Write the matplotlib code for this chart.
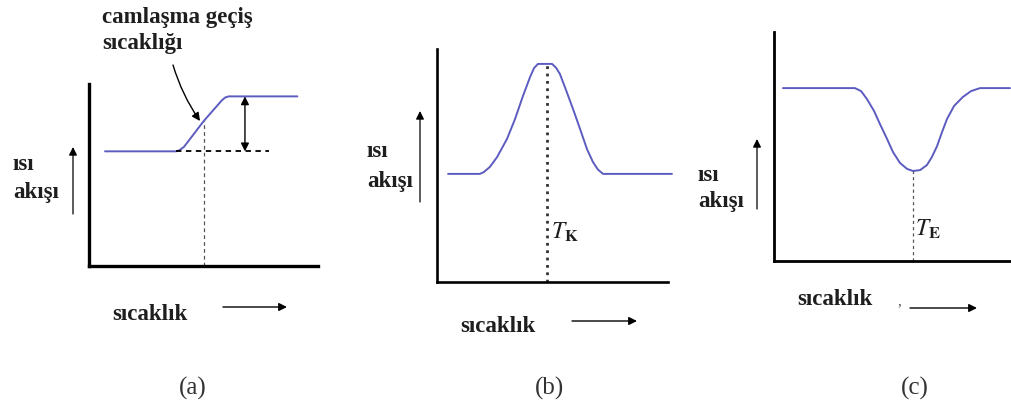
import matplotlib.pyplot as plt

plt.rcParams['font.family'] = 'Liberation Serif'
plt.rcParams['mathtext.fontset'] = 'stix'

W, H = 1011, 414

# (a) glass transition: step in heat flow
glass_T = [0.7, 3.8, 3.95, 4.15, 5.0, 5.8, 5.95, 6.1, 9.1]
glass_Q = [6.3, 6.3, 6.36, 6.55, 7.95, 9.1, 9.26, 9.32, 9.32]
glass_Tg = 5.0
glass_base_end = 7.86
glass_step_x = 6.81

# (b) crystallisation: exothermic peak
cryst_T = [0.48, 1.86, 2.03, 2.29, 2.60, 3.03, 3.38, 3.72, 4.03, 4.2, 4.37,
           4.98, 5.15, 5.32, 5.6, 5.89, 6.2, 6.49, 6.75, 6.97, 7.19, 10.17]
cryst_Q = [4.64, 4.64, 4.72, 4.94, 5.36, 6.14, 7.0, 7.98, 8.8, 9.18, 9.36,
           9.36, 9.2, 8.93, 8.2, 7.42, 6.55, 5.71, 5.15, 4.82, 4.64, 4.64]
cryst_Tk = 4.76

# (c) melting: endothermic dip
melt_T = [0.38, 3.43, 3.69, 3.94, 4.24, 4.49, 4.79, 5.04, 5.34, 5.64, 5.89,
          6.19, 6.48, 6.69, 6.91, 7.12, 7.33, 7.63, 8.0, 8.35, 8.73, 10.0]
melt_Q = [7.55, 7.55, 7.42, 7.07, 6.55, 5.98, 5.33, 4.76, 4.28, 4.02, 3.93,
          3.97, 4.19, 4.54, 5.02, 5.63, 6.2, 6.77, 7.16, 7.42, 7.55, 7.55]
melt_Tm = 5.89

curve_color = '#5c5cc0'
text_color = '#1e1e1e'


def panel(left, top, right, bottom, lw):
    ax = fig.add_axes([left / W, 1 - bottom / H, (right - left) / W, (bottom - top) / H])
    ax.set_xlim(0, 10)
    ax.set_ylim(0, 10)
    ax.set_xticks([])
    ax.set_yticks([])
    ax.patch.set_alpha(0)
    for s in ['top', 'right']:
        ax.spines[s].set_visible(False)
    for s in ['left', 'bottom']:
        ax.spines[s].set_linewidth(lw)
        ax.spines[s].set_color('black')
    return ax


fig = plt.figure(figsize=(W / 100, H / 100), dpi=100)
fig.patch.set_facecolor('white')

# overlay in pixel units for labels and free arrows
ov = fig.add_axes([0, 0, 1, 1])
ov.set_xlim(0, W)
ov.set_ylim(H, 0)
ov.axis('off')
ov.patch.set_alpha(0)

line_kw = dict(color=curve_color, lw=1.4, clip_on=False,
               solid_joinstyle='round', solid_capstyle='round')

# ---- (a)
axa = panel(89, 85, 318, 267, 2.4)
axa.plot(glass_T, glass_Q, **line_kw)
axa.plot([glass_T[1], glass_base_end], [glass_Q[0], glass_Q[0]], color='black',
         lw=1.3, dashes=(3, 2.5))
gi = glass_T.index(glass_Tg)
axa.plot([glass_Tg, glass_Tg], [0, glass_Q[gi]], color='#555555', lw=0.9, dashes=(3, 2.5))
axa.annotate('', xy=(glass_step_x, glass_Q[-1]), xytext=(glass_step_x, glass_Q[0]),
             arrowprops=dict(arrowstyle='<|-|>', color='black', lw=1.0,
                             mutation_scale=12, shrinkA=0, shrinkB=0))

# ---- (b)
axb = panel(437, 50, 668, 283, 1.9)
axb.plot(cryst_T, cryst_Q, **line_kw)
axb.plot([cryst_Tk, cryst_Tk], [0, max(cryst_Q)], color='#333333', lw=2.0, ls=':')

# ---- (c)
axc = panel(774, 33, 1010, 262, 2.0)
axc.plot(melt_T, melt_Q, **line_kw)
axc.plot([melt_Tm, melt_Tm], [0, min(melt_Q)], color='#555555', lw=0.9, dashes=(2.5, 2.5))

bold = dict(fontsize=16.5, fontweight='bold', color=text_color, va='center')

# y-axis captions with upward arrows
for x, y1, y2, ax_arrow, a_top, a_bot in [(13, 165, 193, 73, 148, 215),
                                         (367, 152, 182, 420, 112, 203),
                                         (698, 176, 202, 757, 140, 210)]:
    ov.text(x, y1, 'ısı', ha='left', **bold)
    ov.text(x, y2, 'akışı', ha='left', **bold)
    ov.annotate('', xy=(ax_arrow, a_top), xytext=(ax_arrow, a_bot),
                arrowprops=dict(arrowstyle='-|>', color='black', lw=0.9,
                                mutation_scale=12, shrinkA=0, shrinkB=0))

# x-axis captions with right arrows
for x, y, a0, a1, ay in [(112, 315, 223, 287, 308),
                         (460, 327, 572, 637, 322),
                         (797, 300, 910, 977, 309)]:
    ov.text(x, y, 'sıcaklık', ha='left', **bold)
    ov.annotate('', xy=(a1, ay), xytext=(a0, ay),
                arrowprops=dict(arrowstyle='-|>', color='black', lw=1.0,
                                mutation_scale=12, shrinkA=0, shrinkB=0))
ov.text(899, 302, ',', ha='center', fontsize=11, color='#555555', va='center')

# glass transition callout
ov.text(102, 17, 'camlaşma geçiş', ha='left', **bold)
ov.text(102, 43, 'sıcaklığı', ha='left', **bold)
ov.annotate('', xy=(200, 122), xytext=(173, 66),
            arrowprops=dict(arrowstyle='-|>', color='black', lw=1.0, mutation_scale=12,
                            shrinkA=0, shrinkB=0, connectionstyle='arc3,rad=0.08'))

# peak temperature labels
ov.text(551, 232, r'$T_{\mathbf{K}}$', fontsize=17, ha='left', va='center', color=text_color)
ov.text(915, 229, r'$T_{\mathbf{E}}$', fontsize=17, ha='left', va='center', color=text_color)

# sub-figure letters
for x, lab in [(193, '(a)'), (550, '(b)'), (915, '(c)')]:
    ov.text(x, 388, lab, fontsize=18, ha='center', va='center', color='#333333')

fig.savefig('out.png', dpi=100)
